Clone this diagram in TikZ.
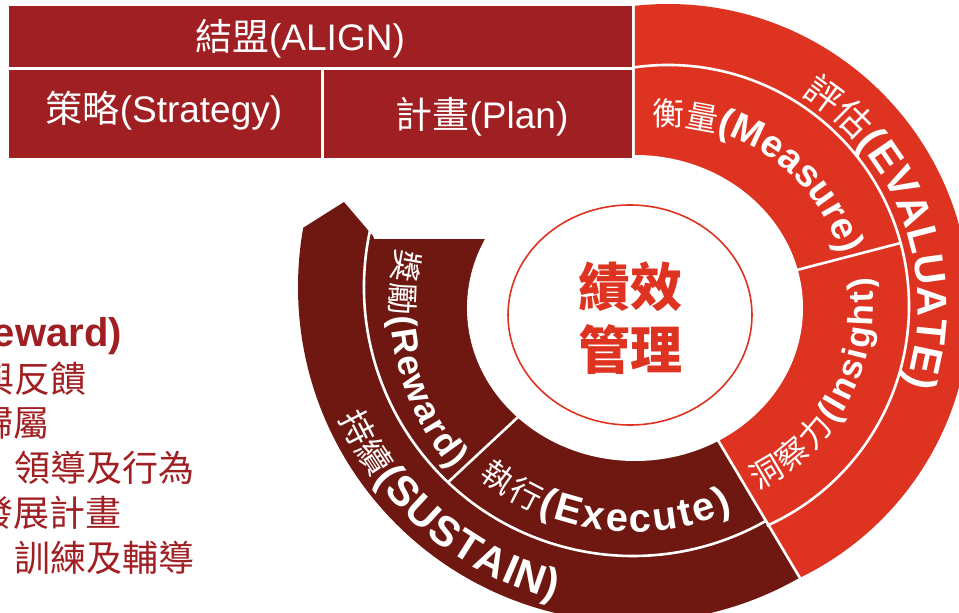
\documentclass[tikz,border=0pt]{standalone}
\usepackage{fontspec}
\setmainfont{Liberation Sans}
\newfontfamily\cjk{Noto Sans CJK TC}
\usetikzlibrary{decorations.text}
\definecolor{barc}{RGB}{160,31,34}
\definecolor{redc}{RGB}{222,51,33}
\definecolor{darkc}{RGB}{110,24,17}
\begin{document}
\begin{tikzpicture}[x=1pt,y=1pt,
  sep/.style={white, line width=2.6pt},
  arctext/.style={decorate, decoration={text along path, text align=fit to path, text color=white, text={#1}}},
  toptext/.style={text=white, inner sep=0pt, font=\fontsize{37}{37}\selectfont},
  lefttext/.style={text=barc, inner sep=0pt, font=\cjk\fontsize{36}{36}\selectfont}]
\useasboundingbox (0,0) rectangle (959,-613);
\clip (0,0) rectangle (959,-613);
\coordinate (R) at (668,-306);
\coordinate (D) at (633,-287);
\coordinate (H) at (635,-308);
\coordinate (C) at (630,-315);
% dark part
\begin{scope}
\clip (872.5,-700) -- (634.8,-300) -- (598.6,-239) -- (374,-239) -- (373,-236) -- (344,-202) -- (306,-226) -- (250,-261.4) -- (250,-700) -- cycle;
\fill[darkc] (D) circle[radius=335];
\end{scope}
% red part
\begin{scope}
\clip (635,10) -- (1000,10) -- (1000,-700) -- (872.5,-700) -- (634.8,-300) -- cycle;
\fill[redc] (R) circle[radius=302];
\end{scope}
% separators
\draw[sep] (R) ++(98:241) arc[start angle=98, end angle=-65.8, radius=241];
\draw[sep] (D) ++(167:269) arc[start angle=167, end angle=299.5, radius=269];
\coordinate (mi1) at (768,-277.5);
\coordinate (mi2) at (900.6,-243);
\coordinate (re1) at (532,-404);
\coordinate (re2) at (448,-482.3);
\coordinate (la) at (700,-410);
\coordinate (lb) at (832.8,-633.2);
\draw[sep] (mi1) -- (mi2);
\draw[sep] (re1) -- (re2);
\draw[sep] (la) -- (lb);
% hole
\fill[white] (H) ellipse[x radius=168, y radius=153];
% bar
\fill[barc] (9,-6) rectangle (632,-66.5);
\fill[barc] (9,-69.5) rectangle (320.5,-158);
\fill[barc] (324,-69.5) rectangle (632,-158);
\node[toptext, anchor=base] (t1) at (300,-50) {{\cjk 結盟}(ALIGN)};
\node[toptext, anchor=base] (t2) at (164,-122) {{\cjk 策略}(Strategy)};
\node[toptext, anchor=base] (t3) at (482,-128) {{\cjk 計畫}(Plan)};
% centre
\draw[redc, line width=1.6pt] (C) ellipse[x radius=122, y radius=110];
\node[text=redc, font=\cjk\bfseries\fontsize{52}{63}\selectfont, align=center, inner sep=0pt] (pm) at (630,-318) {績效\\管理};
% arc texts
\begin{scope}[shift={(668,-306)}]
\path[arctext={|\cjk\fontsize{36}{36}\selectfont|評估|\normalfont\bfseries\fontsize{42}{42}\selectfont|(EVALUATE)}] (57.7:250) arc[start angle=57.7, end angle=-18.4, radius=250];
\path[arctext={|\cjk\fontsize{32}{32}\selectfont|衡量|\normalfont\bfseries\fontsize{38}{38}\selectfont|(Measure)}] (95:180) arc[start angle=95, end angle=16.5, radius=180];
\path[arctext={|\cjk\fontsize{32}{32}\selectfont|洞察力|\normalfont\bfseries\fontsize{35}{35}\selectfont|(Insight)}] (-64:205) arc[start angle=-64, end angle=8, radius=205];
\end{scope}
\begin{scope}[shift={(635,-308)}]
\path[arctext={|\cjk\fontsize{32}{32}\selectfont|獎勵|\normalfont\bfseries\fontsize{36}{36}\selectfont|(Reward)}] (166:244) arc[start angle=166, end angle=221.5, radius=244];
\end{scope}
\begin{scope}[shift={(633,-287)}]
\path[arctext={|\cjk\fontsize{32}{32}\selectfont|執行|\normalfont\bfseries\fontsize{40}{40}\selectfont|(Execute)}] (231:245) arc[start angle=231, end angle=294, radius=245];
\path[arctext={|\cjk\fontsize{34}{34}\selectfont|持續|\normalfont\bfseries\fontsize{42}{42}\selectfont|(SUSTAIN)}] (204:322) arc[start angle=204, end angle=256, radius=322];
\end{scope}
% left text
\node[lefttext, anchor=base east, font=\bfseries\fontsize{40}{40}\selectfont] (l1) at (122,-346) {{\cjk 獎勵}(Reward)};
\node[lefttext, anchor=base west] (l2) at (-22,-392) {與反饋};
\node[lefttext, anchor=base west] (l3) at (-23,-436) {歸屬};
\node[lefttext, anchor=base west] (l4) at (14,-481) {領導及行為};
\node[lefttext, anchor=base west] (l5) at (-23,-526) {發展計畫};
\node[lefttext, anchor=base west] (l6) at (14,-571) {訓練及輔導};
\end{tikzpicture}
\end{document}
